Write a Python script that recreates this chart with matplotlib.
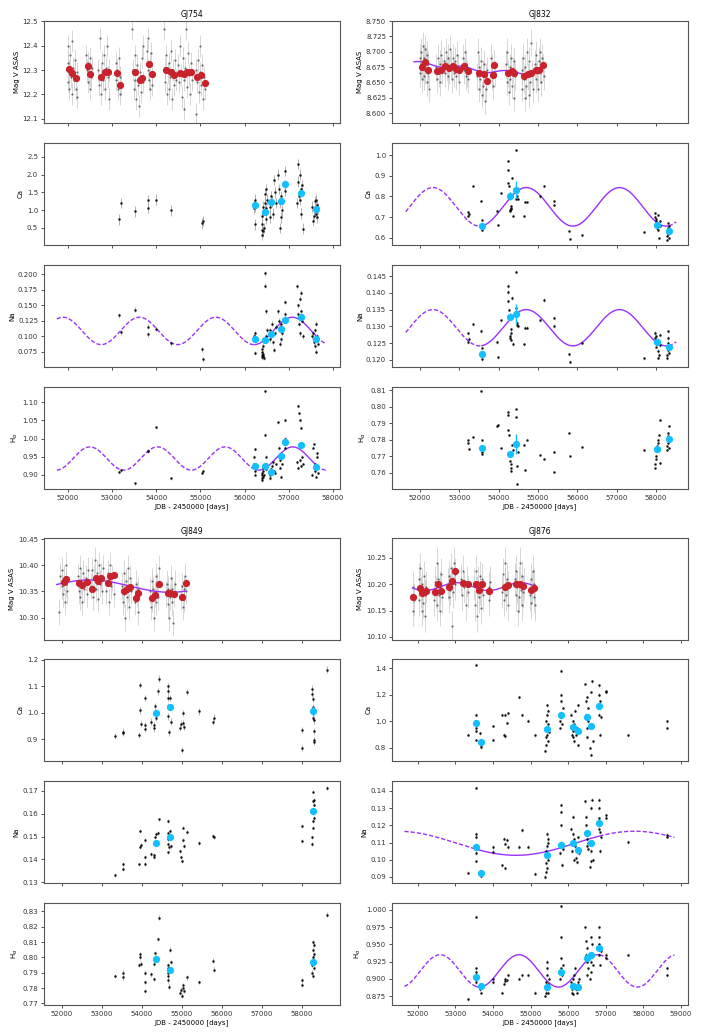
"""Photometric (ASAS V) and spectroscopic activity indices for four M dwarfs."""

import numpy as np
import matplotlib
matplotlib.use("Agg")
import matplotlib.pyplot as plt
from matplotlib.ticker import MultipleLocator

plt.rcParams["font.family"] = "DejaVu Sans"
plt.rcParams["font.size"] = 5

# ---------------------------------------------------------------- GJ754
GJ754_MAG_X = [51995, 52005, 52010, 52020, 52035, 52050, 52070, 52085, 52100, 52115, 52140, 52160, 52180, 52200, 52215,
               52420, 52435, 52450, 52465, 52480, 52495, 52510, 52530, 52550,
               52690, 52710, 52725, 52745, 52760, 52780, 52800, 52820, 52840, 52860, 52880, 52900, 52920, 52940,
               53080, 53100, 53115, 53130, 53150, 53170, 53190, 53210,
               53460, 53480, 53500, 53515, 53530, 53550, 53570, 53590, 53610, 53630, 53650, 53670, 53690, 53710,
               53790, 53805, 53820, 53835, 53850, 53865, 53880, 53900, 53915,
               54180, 54195, 54210, 54225, 54240, 54260, 54280, 54300, 54320, 54340, 54360, 54380, 54400, 54420, 54440,
               54500, 54520, 54540, 54560, 54580, 54600, 54620, 54640, 54660, 54680, 54700, 54720, 54740, 54760, 54780, 54800,
               54890, 54905, 54920, 54940, 54960, 54980, 55000, 55020, 55040, 55060, 55080, 55100]
GJ754_MAG_Y = [12.25, 12.40, 12.33, 12.22, 12.30, 12.36, 12.27, 12.42, 12.20, 12.31, 12.26, 12.34, 12.22, 12.29, 12.19,
               12.36, 12.30, 12.25, 12.33, 12.28, 12.22, 12.35, 12.27, 12.31,
               12.30, 12.24, 12.43, 12.28, 12.20, 12.33, 12.26, 12.36, 12.22, 12.31, 12.40, 12.27, 12.18, 12.30,
               12.33, 12.26, 12.30, 12.22, 12.35, 12.20, 12.27, 12.24,
               12.47, 12.30, 12.22, 12.36, 12.26, 12.18, 12.32, 12.24, 12.15, 12.29, 12.21, 12.35, 12.25, 12.40,
               12.38, 12.30, 12.43, 12.26, 12.33, 12.22, 12.37, 12.28, 12.24,
               12.47, 12.31, 12.25, 12.36, 12.20, 12.29, 12.33, 12.22, 12.27, 12.38, 12.18, 12.30, 12.24, 12.34, 12.26,
               12.32, 12.25, 12.40, 12.28, 12.19, 12.35, 12.26, 12.14, 12.31, 12.47, 12.23, 12.37, 12.28, 12.20, 12.33, 12.26,
               12.30, 12.12, 12.25, 12.34, 12.21, 12.29, 12.40, 12.24, 12.32, 12.18, 12.27, 12.22]
GJ754_BIN_MAG_X = [52015, 52098, 52189, 52445, 52506, 52740, 52830, 52906, 53117, 53185, 53517, 53623, 53683,
                   53826, 53894, 54211, 54325, 54400, 54528, 54619, 54702, 54777, 54921, 55011, 55094]
GJ754_BIN_MAG_Y = [12.303, 12.289, 12.267, 12.317, 12.283, 12.272, 12.290, 12.292, 12.288, 12.238, 12.294, 12.259, 12.267,
                   12.325, 12.283, 12.300, 12.292, 12.279, 12.288, 12.283, 12.290, 12.290, 12.270, 12.279, 12.246]

GJ754_SPEC_X = [53147, 53200, 53509, 53811, 53815, 53985, 54340, 55042, 55057,
                56215, 56220, 56225, 56228, 56232, 56236,
                56385, 56392, 56400, 56405, 56412, 56420, 56428, 56440, 56455, 56465, 56475, 56485, 56495, 56505,
                56570, 56585, 56600, 56615, 56640, 56660, 56690, 56715,
                56760, 56785, 56795, 56805, 56815, 56830, 56845, 56905, 56915, 56925,
                57180, 57200, 57215, 57230, 57245, 57260, 57270, 57285, 57300, 57330,
                57520, 57555, 57570, 57585, 57600, 57612, 57625, 57640, 57650, 57665]
GJ754_CA = [0.74, 1.20, 0.97, 1.28, 1.06, 1.30, 1.00, 0.63, 0.70,
            1.15, 1.05, 1.30, 0.60, 1.20, 1.10,
            0.45, 0.30, 0.60, 0.85, 0.40, 1.10, 0.95, 0.50, 1.45, 1.20, 0.75, 1.60, 1.05, 1.30,
            1.10, 0.80, 1.40, 1.25, 0.90, 1.85, 1.50, 1.20,
            2.00, 1.60, 0.50, 1.20, 1.40, 0.80, 1.00, 2.10, 1.70, 1.55,
            1.20, 1.80, 2.30, 1.40, 1.30, 2.00, 1.60, 0.90, 1.70, 0.48,
            1.10, 0.70, 0.85, 1.25, 1.00, 0.90, 1.30, 1.15, 0.80, 1.05]
GJ754_NA = [0.1335, 0.1064, 0.1426, 0.1149, 0.1032, 0.1122, 0.0883, 0.0787, 0.0628,
            0.100, 0.097, 0.105, 0.073, 0.095, 0.099,
            0.066, 0.070, 0.075, 0.080, 0.068, 0.085, 0.072, 0.065, 0.201, 0.181, 0.140, 0.100, 0.095, 0.110,
            0.095, 0.110, 0.100, 0.120, 0.090, 0.078, 0.105, 0.115,
            0.140, 0.125, 0.115, 0.088, 0.095, 0.120, 0.105, 0.155, 0.125, 0.135,
            0.180, 0.150, 0.135, 0.120, 0.160, 0.105, 0.140, 0.170, 0.125, 0.100,
            0.100, 0.105, 0.090, 0.085, 0.110, 0.120, 0.075, 0.095, 0.100, 0.088]
GJ754_HA = [0.909, 0.913, 0.877, 0.967, 0.965, 1.031, 0.891, 0.906, 0.910,
            0.93, 0.95, 0.97, 0.91, 0.90, 0.92,
            0.890, 0.900, 0.885, 0.905, 0.895, 0.910, 0.920, 0.900, 1.130, 1.010, 0.950, 0.930, 0.915, 0.925,
            0.900, 0.890, 0.915, 0.925, 0.935, 0.910, 0.905, 0.930,
            1.045, 0.975, 0.940, 0.920, 0.955, 0.895, 0.930, 1.050, 1.000, 0.975,
            0.935, 0.920, 1.090, 1.070, 1.050, 0.940, 0.925, 1.030, 0.950, 0.930,
            0.900, 0.975, 0.985, 0.910, 0.930, 0.920, 0.895, 0.950, 0.960, 0.905]
GJ754_BIN_X = [56226, 56468, 56604, 56815, 56921, 57283, 57623]
GJ754_BIN_CA = [1.14, 0.95, 1.23, 1.26, 1.74, 1.48, 1.04]
GJ754_BIN_NA = [0.0963, 0.0936, 0.1032, 0.1117, 0.1255, 0.1309, 0.0957]
GJ754_BIN_HA = [0.923, 0.923, 0.909, 0.953, 0.990, 0.982, 0.922]

# ---------------------------------------------------------------- GJ832
GJ832_MAG_X = [51990, 52005, 52020, 52035, 52050, 52065, 52080, 52095, 52110, 52125, 52140, 52155, 52170, 52185, 52200, 52215, 52230,
               52420, 52440, 52460, 52480, 52500, 52520, 52540, 52560,
               52600, 52625, 52650, 52675, 52700, 52725, 52750, 52775, 52800, 52825, 52850, 52875, 52900, 52925, 52950, 52975, 53000,
               53100, 53120, 53140, 53160, 53180, 53200, 53220,
               53450, 53470, 53490, 53510, 53530, 53550, 53570, 53590, 53610, 53630, 53650, 53670, 53690, 53710,
               53800, 53820, 53840, 53860, 53880, 53900,
               54180, 54200, 54220, 54240, 54260, 54280, 54300, 54320, 54340, 54360, 54380, 54400, 54420,
               54580, 54600, 54620, 54640, 54660, 54680, 54700, 54720, 54740, 54760, 54780, 54800, 54820, 54840, 54860,
               54920, 54940, 54960, 54980, 55000, 55020, 55040, 55060, 55080, 55100, 55120, 55140]
GJ832_MAG_Y = [8.690, 8.665, 8.700, 8.680, 8.655, 8.710, 8.675, 8.690, 8.660, 8.705, 8.670, 8.685, 8.650, 8.695, 8.665, 8.680, 8.640,
               8.675, 8.655, 8.690, 8.665, 8.680, 8.650, 8.695, 8.670,
               8.685, 8.665, 8.700, 8.675, 8.660, 8.690, 8.670, 8.705, 8.680, 8.655, 8.690, 8.665, 8.685, 8.660, 8.695, 8.675, 8.650,
               8.690, 8.670, 8.700, 8.660, 8.680, 8.665, 8.655,
               8.660, 8.700, 8.640, 8.675, 8.655, 8.685, 8.630, 8.665, 8.645, 8.680, 8.620, 8.660, 8.640, 8.670,
               8.690, 8.660, 8.675, 8.645, 8.680, 8.665,
               8.680, 8.650, 8.700, 8.665, 8.635, 8.675, 8.655, 8.690, 8.645, 8.670, 8.625, 8.685, 8.660,
               8.670, 8.640, 8.690, 8.655, 8.625, 8.675, 8.645, 8.700, 8.660, 8.630, 8.685, 8.650, 8.715, 8.665, 8.640,
               8.680, 8.655, 8.695, 8.665, 8.640, 8.685, 8.670, 8.700, 8.650, 8.690, 8.675, 8.660]
GJ832_BIN_MAG_X = [52043, 52119, 52204, 52443, 52528, 52630, 52740, 52843, 52911, 52996, 53123, 53209, 53506,
                   53617, 53702, 53847, 53889, 54247, 54332, 54400, 54638, 54740, 54826, 54953, 55021, 55123]
GJ832_BIN_MAG_Y = [8.6755, 8.6830, 8.6710, 8.6685, 8.6700, 8.6766, 8.6730, 8.6766, 8.6720, 8.6700, 8.6766, 8.6685, 8.6658,
                   8.6630, 8.6516, 8.6625, 8.6788, 8.6647, 8.6685, 8.6647, 8.6603, 8.6636, 8.6647, 8.6700, 8.6700, 8.6777]

GJ832_SPEC_X = [53210, 53226, 53240, 53336, 53549, 53570, 53574, 53578, 53957, 53974, 54060,
                54230, 54240, 54247, 54255, 54290, 54298, 54306, 54315, 54323, 54332, 54357,
                54443, 54451, 54460, 54468, 54485, 54638, 54672, 54715, 55055, 55140, 55404, 55410,
                55779, 55804, 56128, 57694,
                57960, 57975, 57985, 57995, 58005, 58015, 58025, 58040, 58055, 58070, 58090, 58110,
                58280, 58286, 58292, 58298, 58304, 58310, 58318, 58330]
GJ832_CA = [0.724, 0.708, 0.715, 0.852, 0.780, 0.656, 0.640, 0.688, 0.728, 0.664, 0.817,
            0.969, 0.929, 0.865, 0.850, 0.736, 0.728, 0.752, 0.740, 0.745, 0.889, 0.708,
            1.025, 0.788, 0.825, 0.800, 0.790, 0.708, 0.772, 0.772, 0.800, 0.849, 0.777, 0.760,
            0.632, 0.595, 0.616, 0.627,
            0.72, 0.70, 0.68, 0.66, 0.69, 0.67, 0.65, 0.71, 0.64, 0.60, 0.68, 0.66,
            0.59, 0.61, 0.63, 0.65, 0.67, 0.62, 0.60, 0.66]
GJ832_NA = [0.1279, 0.1254, 0.1262, 0.1306, 0.1286, 0.1217, 0.1202, 0.1237, 0.1254, 0.1208, 0.1318,
            0.1420, 0.1402, 0.1375, 0.1350, 0.1271, 0.1265, 0.1291, 0.1260, 0.1280, 0.1385, 0.1248,
            0.1463, 0.1356, 0.1303, 0.1310, 0.1300, 0.1247, 0.1296, 0.1296, 0.1318, 0.1379, 0.1326, 0.1301,
            0.1217, 0.1195, 0.1252, 0.1205,
            0.1280, 0.1265, 0.1255, 0.1240, 0.1270, 0.1250, 0.1260, 0.1227, 0.1207, 0.1215, 0.1275, 0.1245,
            0.1205, 0.1215, 0.1230, 0.1250, 0.1265, 0.1285, 0.1240, 0.1220]
GJ832_HA = [0.7800, 0.7780, 0.7745, 0.7818, 0.8097, 0.7797, 0.7725, 0.7715, 0.7880, 0.7890, 0.7752,
            0.7970, 0.7948, 0.7860, 0.7830, 0.7705, 0.7670, 0.7650, 0.7630, 0.7610, 0.7770, 0.7740,
            0.7983, 0.7940, 0.7642, 0.7533, 0.7725, 0.7766, 0.7615, 0.7800, 0.7710, 0.7683, 0.7607, 0.7725,
            0.7843, 0.7700, 0.7756, 0.7739,
            0.7630, 0.7650, 0.7680, 0.7700, 0.7730, 0.7750, 0.7760, 0.7780, 0.7800, 0.7830, 0.7917, 0.7660,
            0.7740, 0.7760, 0.7780, 0.7800, 0.7820, 0.7840, 0.7880, 0.7750]
GJ832_BIN_X = [53574, 54281, 54434, 58026, 58315]
GJ832_BIN_CA = [0.659, 0.801, 0.833, 0.664, 0.635]
GJ832_BIN_NA = [0.1219, 0.1329, 0.1338, 0.1254, 0.1240]
GJ832_BIN_HA = [0.7752, 0.7714, 0.7772, 0.7745, 0.7803]

# ---------------------------------------------------------------- GJ849
GJ849_MAG_X = [51930, 51960, 51990, 52010, 52030, 52050, 52070, 52090, 52110, 52125,
               52400, 52420, 52440, 52460, 52480, 52500, 52520, 52540, 52600, 52625, 52650,
               52720, 52745, 52770, 52795, 52820, 52845, 52870, 52895, 52920, 52945, 52970, 52995, 53020,
               53110, 53140, 53170, 53200, 53230, 53260, 53290,
               53500, 53520, 53540, 53560, 53580, 53600, 53620, 53640, 53660, 53680, 53700, 53720,
               53830, 53850, 53870, 53890, 53910,
               54200, 54220, 54240, 54260, 54280, 54300, 54320, 54340, 54360, 54380, 54400, 54420,
               54600, 54620, 54640, 54660, 54680, 54700, 54720, 54740, 54760, 54780, 54800, 54820,
               54980, 55000, 55020, 55040, 55060, 55080, 55100]
GJ849_MAG_Y = [10.310, 10.380, 10.360, 10.390, 10.345, 10.375, 10.330, 10.400, 10.365, 10.350,
               10.380, 10.350, 10.395, 10.340, 10.370, 10.330, 10.385, 10.355, 10.375, 10.345, 10.390,
               10.360, 10.390, 10.340, 10.375, 10.410, 10.355, 10.385, 10.335, 10.400, 10.365, 10.380, 10.350, 10.395,
               10.350, 10.385, 10.330, 10.400, 10.360, 10.375, 10.345,
               10.360, 10.330, 10.385, 10.345, 10.300, 10.370, 10.340, 10.395, 10.355, 10.320, 10.375, 10.350,
               10.330, 10.365, 10.345, 10.310, 10.355,
               10.350, 10.320, 10.370, 10.335, 10.355, 10.300, 10.345, 10.380, 10.330, 10.360, 10.340, 10.395,
               10.345, 10.365, 10.325, 10.355, 10.300, 10.340, 10.375, 10.330, 10.355, 10.290, 10.345, 10.365,
               10.340, 10.360, 10.320, 10.355, 10.335, 10.380, 10.350]
GJ849_BIN_MAG_X = [52050, 52100, 52427, 52510, 52628, 52745, 52845, 52912, 52979, 53146, 53205, 53289, 53556,
                   53632, 53707, 53858, 53900, 54251, 54335, 54418, 54644, 54711, 54795, 55004, 55105]
GJ849_BIN_MAG_Y = [10.3688, 10.3734, 10.3669, 10.3617, 10.3688, 10.3539, 10.3753, 10.3701, 10.3747, 10.3669, 10.3786,
                   10.3812, 10.3513, 10.3539, 10.3591, 10.3377, 10.3461, 10.3377, 10.3422, 10.3649, 10.3461,
                   10.3461, 10.3455, 10.3396, 10.3656]

GJ849_SPEC_X = [53331, 53515, 53520, 53916, 53958, 53962, 53968, 54067, 54072, 54078, 54234, 54293, 54298,
                54335, 54343, 54410, 54418, 54644, 54648, 54652, 54656, 54660, 54664, 54711, 54716,
                54962, 54968, 55004, 55029, 55034, 55040, 55113, 55423, 55782, 55790, 58000, 58005,
                58255, 58262, 58268, 58274, 58280, 58286, 58292, 58298, 58304, 58310, 58619]
GJ849_CA = [0.911, 0.928, 0.923, 0.915, 1.103, 1.008, 0.956, 1.054, 0.953, 0.938, 0.966, 0.953, 0.940,
            1.023, 0.981, 1.080, 1.128, 1.080, 1.099, 1.054, 1.025, 0.985, 0.925, 1.054, 0.966,
            0.943, 0.956, 0.858, 0.997, 0.959, 0.945, 1.077, 1.004, 0.966, 0.981, 0.934, 0.867,
            1.090, 1.070, 1.050, 1.020, 1.000, 0.980, 0.970, 0.930, 0.890, 0.895, 1.162]
GJ849_NA = [0.1333, 0.1381, 0.1359, 0.1378, 0.1524, 0.1453, 0.1463, 0.1484, 0.1412, 0.1381, 0.1424, 0.1421, 0.1409,
            0.1496, 0.1510, 0.1517, 0.1575, 0.1568, 0.1517, 0.1467, 0.1431, 0.1490, 0.1455, 0.1524, 0.1460,
            0.1438, 0.1409, 0.1392, 0.1539, 0.1484, 0.1460, 0.1520, 0.1471, 0.1503, 0.1496, 0.1545, 0.1481,
            0.1496, 0.1467, 0.1539, 0.1654, 0.1697, 0.1568, 0.1582, 0.1640, 0.1610, 0.1660, 0.1712]
GJ849_HA = [0.788, 0.790, 0.787, 0.795, 0.802, 0.800, 0.796, 0.784, 0.778, 0.790, 0.789, 0.786, 0.796,
            0.803, 0.800, 0.812, 0.826, 0.793, 0.790, 0.788, 0.785, 0.795, 0.781, 0.805, 0.797,
            0.777, 0.779, 0.775, 0.782, 0.780, 0.778, 0.787, 0.784, 0.798, 0.792, 0.785, 0.782,
            0.790, 0.795, 0.800, 0.805, 0.810, 0.788, 0.798, 0.802, 0.793, 0.808, 0.828]
GJ849_BIN_X = [54343, 54703, 58276]
GJ849_BIN_CA = [0.997, 1.020, 1.004]
GJ849_BIN_NA = [0.1474, 0.1496, 0.1611]
GJ849_BIN_HA = [0.799, 0.792, 0.797]

# ---------------------------------------------------------------- GJ876
GJ876_MAG_X = [51860, 51875, 51890,
               52020, 52040, 52060, 52080, 52100, 52120, 52140, 52160, 52180, 52200, 52220,
               52440, 52460, 52480, 52500, 52520, 52540, 52560, 52580, 52600, 52620, 52640,
               52800, 52820, 52840, 52860, 52880, 52900, 52920, 52940, 52960, 52980, 53000,
               53150, 53180, 53210, 53240, 53270, 53300, 53330,
               53500, 53520, 53540, 53560, 53580, 53600, 53620, 53640, 53660, 53680, 53700, 53720,
               53880, 53900, 53920,
               54250, 54270, 54290, 54310, 54330, 54350, 54370, 54390, 54410,
               54580, 54600, 54620, 54640, 54660, 54680, 54700, 54720, 54740, 54760, 54780, 54800, 54820,
               54980, 55000, 55020, 55040, 55060, 55080, 55100, 55120]
GJ876_MAG_Y = [10.150, 10.195, 10.170,
               10.210, 10.170, 10.230, 10.185, 10.150, 10.200, 10.165, 10.215, 10.180, 10.140, 10.195,
               10.170, 10.205, 10.185, 10.240, 10.160, 10.210, 10.180, 10.195, 10.150, 10.220, 10.175,
               10.200, 10.175, 10.215, 10.190, 10.230, 10.120, 10.205, 10.185, 10.240, 10.200, 10.220,
               10.210, 10.180, 10.225, 10.195, 10.160, 10.205, 10.185,
               10.200, 10.160, 10.225, 10.185, 10.140, 10.205, 10.175, 10.215, 10.190, 10.155, 10.210, 10.180,
               10.195, 10.170, 10.205,
               10.185, 10.220, 10.170, 10.200, 10.240, 10.180, 10.210, 10.160, 10.195,
               10.210, 10.180, 10.225, 10.195, 10.150, 10.205, 10.175, 10.240, 10.190, 10.160, 10.215, 10.185, 10.200,
               10.180, 10.210, 10.165, 10.195, 10.225, 10.175, 10.200, 10.160]
GJ876_BIN_MAG_X = [51876, 52062, 52107, 52151, 52213, 52462, 52524, 52613, 52835, 52906, 52995, 53190,
                   53323, 53545, 53616, 53705, 53900, 54327, 54398, 54611, 54718, 54806, 55011, 55099]
GJ876_BIN_MAG_Y = [10.1755, 10.1936, 10.1839, 10.1852, 10.1871, 10.1852, 10.2000, 10.1871, 10.1949, 10.2064, 10.2251,
                   10.2032, 10.2013, 10.2000, 10.1897, 10.2000, 10.1871, 10.1949, 10.1987, 10.2000, 10.2000,
                   10.1968, 10.1884, 10.1929]

GJ876_SPEC_X = [53341, 53540, 53542, 53545, 53548, 53551, 53554, 53661, 53675, 53685, 53989, 53995,
                54238, 54300, 54310, 54325, 54360, 54410, 54700, 54773, 54940, 55126,
                55390, 55398, 55405, 55412, 55420, 55428, 55436, 55444, 55452, 55462, 55475, 55490,
                55783, 55790, 55798, 55805, 55812, 55820, 55835, 55854,
                56076, 56090, 56105, 56120, 56130, 56140, 56150, 56160, 56180, 56220, 56240, 56255, 56270, 56300,
                56458, 56470, 56480, 56490, 56500, 56510, 56525, 56540, 56580, 56600, 56610, 56620, 56635, 56654,
                56810, 56818, 56825, 56832, 56840, 56860, 56876, 57009, 57020, 57586, 58625, 58632]
GJ876_CA = [0.90, 1.425, 1.05, 1.00, 0.95, 0.925, 0.86, 0.91, 0.825, 0.805, 0.965, 0.862,
            1.05, 0.90, 0.888, 1.05, 0.99, 1.06, 1.18, 1.05, 1.005, 0.895,
            0.78, 0.82, 0.88, 0.95, 1.00, 1.05, 1.12, 0.90, 0.85, 0.98, 1.08, 0.92,
            0.95, 1.00, 1.38, 1.15, 1.20, 1.05, 0.98, 1.10,
            1.05, 0.95, 0.90, 0.88, 1.00, 0.93, 0.85, 0.98, 1.08, 0.90, 0.95, 0.82, 1.12, 0.92,
            1.28, 1.15, 1.05, 0.95, 0.88, 1.18, 1.00, 1.10, 0.80, 0.75, 0.95, 1.22, 1.30, 0.85,
            1.27, 1.20, 1.10, 1.05, 0.90, 1.15, 1.03, 1.225, 1.22, 0.895, 1.00, 0.95]
GJ876_NA = [0.0926, 0.1420, 0.1152, 0.1133, 0.1085, 0.1040, 0.0990, 0.0930, 0.0910, 0.0905, 0.1075, 0.1046,
            0.0968, 0.1123, 0.0950, 0.1094, 0.1114, 0.1075, 0.1075, 0.1172, 0.1075, 0.0920,
            0.0900, 0.0930, 0.0980, 0.1020, 0.1050, 0.1080, 0.1150, 0.0950, 0.1000, 0.1100, 0.1120, 0.1030,
            0.1040, 0.1090, 0.1320, 0.1280, 0.1200, 0.1100, 0.0970, 0.1060,
            0.1180, 0.1100, 0.1050, 0.1150, 0.1090, 0.1250, 0.1120, 0.1000, 0.1080, 0.1010, 0.0985, 0.1060, 0.1130, 0.1040,
            0.1340, 0.1250, 0.1200, 0.1150, 0.1080, 0.1120, 0.1100, 0.1060, 0.0960, 0.0990, 0.1050, 0.1300, 0.1350, 0.1000,
            0.1350, 0.1300, 0.1240, 0.1180, 0.1050, 0.1160, 0.1130, 0.1259, 0.1245, 0.1104, 0.1143, 0.1135]
GJ876_HA = [0.870, 0.990, 0.915, 0.905, 0.900, 0.895, 0.910, 0.885, 0.890, 0.880, 0.895, 0.900,
            0.880, 0.893, 0.897, 0.900, 0.898, 0.905, 0.900, 0.905, 0.905, 0.880,
            0.875, 0.880, 0.885, 0.890, 0.895, 0.905, 0.915, 0.925, 0.880, 0.888, 0.892, 0.900,
            0.900, 0.910, 1.005, 0.960, 0.930, 0.915, 0.905, 0.920,
            0.895, 0.885, 0.880, 0.878, 0.890, 0.900, 0.887, 0.905, 0.915, 0.885, 0.880, 0.890, 0.895, 0.900,
            0.975, 0.955, 0.935, 0.925, 0.905, 0.945, 0.915, 0.930, 0.900, 0.910, 0.925, 0.960, 0.950, 0.920,
            0.975, 0.960, 0.950, 0.935, 0.920, 0.945, 0.940, 0.935, 0.930, 0.935, 0.915, 0.905]
GJ876_BIN_X = [53545, 53679, 55428, 55810, 56139, 56254, 56494, 56609, 56831]
GJ876_BIN_CA = [0.988, 0.845, 0.945, 1.045, 0.955, 0.925, 1.030, 0.962, 1.118]
GJ876_BIN_NA = [0.1075, 0.0924, 0.1030, 0.1088, 0.1100, 0.1055, 0.1158, 0.1100, 0.1214]
GJ876_BIN_HA = [0.903, 0.890, 0.888, 0.910, 0.890, 0.888, 0.930, 0.935, 0.945]

# sinusoidal fits: (mean, amplitude, period, time of maximum), drawn over [start, end],
# solid inside [solid_lo, solid_hi] and dashed outside
GJ754_NA_FIT = (0.1085, 0.022, 1730, 57080)
GJ754_HA_FIT = (0.945, 0.032, 1530, 57090)
GJ754_SPAN = (51750, 57850, 56226, 57623)
GJ832_CA_FIT = (0.750, 0.093, 2370, 54700)
GJ832_NA_FIT = (0.1296, 0.0054, 2370, 54700)
GJ832_SPAN = (51640, 58510, 53574, 58315)
GJ832_MAG_FIT = [(8.674, 0.008, 6000, 51500), (0.0, 0.003, 1100, 53084)]
GJ832_MAG_SPAN = (51850, 55125)
GJ849_MAG_FIT = (10.360, 0.0118, 4000, 52700)
GJ849_MAG_SPAN = (51866, 55100)
GJ876_MAG_FIT = (10.1955, 0.0075, 1700, 53030)
GJ876_MAG_SPAN = (51858, 55144)
GJ876_NA_FIT = (0.1096, 0.0070, 6300, 57760)
GJ876_HA_FIT = (0.9115, 0.0235, 2100, 56790)
GJ876_SPAN = (51640, 58830, 53545, 56831)

FIT_COLOR = "#9b30ff"
RED = "#c8232c"
BLUE = "#12c0ff"


def sine(t, p):
    mean, amp, period, tmax = p
    return mean + amp * np.cos(2 * np.pi * (t - tmax) / period)


def draw_fit(ax, params, span):
    t0, t1, lo, hi = span
    t = np.linspace(t0, t1, 800)
    y = sine(t, params)
    inside = (t >= lo) & (t <= hi)
    ax.plot(t, np.where(inside, np.nan, y), color=FIT_COLOR, lw=1.0, ls=(0, (3, 1.5)))
    ax.plot(t, np.where(inside, y, np.nan), color=FIT_COLOR, lw=1.0)


def draw_mag_fit(ax, params_list, span):
    t = np.linspace(span[0], span[1], 400)
    y = sum(sine(t, p) for p in params_list)
    ax.plot(t, y, color=FIT_COLOR, lw=1.0, zorder=3)


def draw_cloud(ax, x, y, err):
    ax.errorbar(x, y, yerr=err, fmt=".", color="#333333", ms=1.3, alpha=0.6,
                ecolor="#b0b0b0", elinewidth=0.6, capsize=0, zorder=2)


def draw_points(ax, x, y, err):
    ax.errorbar(x, y, yerr=err, fmt=".", color="k", ms=1.8, alpha=0.75,
                ecolor="#9a9a9a", elinewidth=0.7, capsize=0, zorder=2)


def draw_bins(ax, x, y, err, color):
    ax.errorbar(x, y, yerr=err, fmt="o", color=color, ms=4.2, elinewidth=1.0,
                capsize=0, zorder=4)


def style(ax):
    for s in ax.spines.values():
        s.set_color("#555555")
        s.set_linewidth(0.8)
    ax.tick_params(colors="#333333", labelsize=5, length=2.5, width=0.6, pad=1.8)


W, H = 706, 1036
COL_LEFT = [44, 392]
COL_W = 296
ROW_TOPS = [[21, 143, 265, 387], [538, 659, 781, 903]]
ROW_H = 102

fig = plt.figure(figsize=(W / 100, H / 100), dpi=100)


def make_column(group, col, xlim, ysteps):
    axes = []
    for i, top in enumerate(ROW_TOPS[group]):
        rect = [COL_LEFT[col] / W, 1 - (top + ROW_H) / H, COL_W / W, ROW_H / H]
        ax = fig.add_axes(rect, sharex=axes[0] if axes else None)
        style(ax)
        ax.yaxis.set_major_locator(MultipleLocator(ysteps[i]))
        if i < 3:
            ax.tick_params(labelbottom=False)
        axes.append(ax)
    axes[0].set_xlim(*xlim)
    axes[0].xaxis.set_major_locator(MultipleLocator(1000))
    for a, lab in zip(axes, ["Mag V ASAS", "Ca", "Na", r"H$_\alpha$"]):
        a.set_ylabel(lab, fontsize=5, labelpad=2)
    axes[3].set_xlabel("JDB - 2450000 [days]", fontsize=5, labelpad=1.5)
    return axes


# GJ754
ax = make_column(0, 0, (51460, 58160), [0.1, 0.5, 0.025, 0.05])
ax[0].set_title("GJ754", fontsize=5.5, pad=3)
draw_cloud(ax[0], GJ754_MAG_X, GJ754_MAG_Y, 0.045)
draw_bins(ax[0], GJ754_BIN_MAG_X, GJ754_BIN_MAG_Y, 0.008, RED)
ax[0].set_ylim(12.082, 12.502)
draw_points(ax[1], GJ754_SPEC_X, GJ754_CA, 0.15)
draw_bins(ax[1], GJ754_BIN_X, GJ754_BIN_CA, 0.07, BLUE)
ax[1].set_ylim(0.02, 2.89)
draw_points(ax[2], GJ754_SPEC_X, GJ754_NA, 0.004)
draw_fit(ax[2], GJ754_NA_FIT, GJ754_SPAN)
draw_bins(ax[2], GJ754_BIN_X, GJ754_BIN_NA, 0.003, BLUE)
ax[2].set_ylim(0.0505, 0.2145)
draw_points(ax[3], GJ754_SPEC_X, GJ754_HA, 0.004)
draw_fit(ax[3], GJ754_HA_FIT, GJ754_SPAN)
draw_bins(ax[3], GJ754_BIN_X, GJ754_BIN_HA, 0.008, BLUE)
ax[3].set_ylim(0.861, 1.142)

# GJ832
ax = make_column(0, 1, (51290, 58810), [0.025, 0.1, 0.005, 0.01])
ax[0].set_title("GJ832", fontsize=5.5, pad=3)
draw_cloud(ax[0], GJ832_MAG_X, GJ832_MAG_Y, 0.022)
draw_mag_fit(ax[0], GJ832_MAG_FIT, GJ832_MAG_SPAN)
draw_bins(ax[0], GJ832_BIN_MAG_X, GJ832_BIN_MAG_Y, 0.004, RED)
ax[0].set_ylim(8.584, 8.750)
draw_points(ax[1], GJ832_SPEC_X, GJ832_CA, 0.005)
draw_fit(ax[1], GJ832_CA_FIT, GJ832_SPAN)
draw_bins(ax[1], GJ832_BIN_X, GJ832_BIN_CA, [0.01, 0.02, 0.04, 0.01, 0.01], BLUE)
ax[1].set_ylim(0.566, 1.058)
draw_points(ax[2], GJ832_SPEC_X, GJ832_NA, 0.0005)
draw_fit(ax[2], GJ832_NA_FIT, GJ832_SPAN)
draw_bins(ax[2], GJ832_BIN_X, GJ832_BIN_NA, [0.0008, 0.001, 0.003, 0.0005, 0.0005], BLUE)
ax[2].set_ylim(0.1179, 0.1483)
draw_points(ax[3], GJ832_SPEC_X, GJ832_HA, 0.0005)
draw_bins(ax[3], GJ832_BIN_X, GJ832_BIN_HA, [0.0008, 0.0015, 0.006, 0.0008, 0.0008], BLUE)
ax[3].set_ylim(0.7501, 0.8119)

# GJ849
ax = make_column(1, 0, (51550, 58950), [0.05, 0.1, 0.01, 0.01])
ax[0].set_title("GJ849", fontsize=5.5, pad=3)
draw_cloud(ax[0], GJ849_MAG_X, GJ849_MAG_Y, 0.025)
draw_mag_fit(ax[0], [GJ849_MAG_FIT], GJ849_MAG_SPAN)
draw_bins(ax[0], GJ849_BIN_MAG_X, GJ849_BIN_MAG_Y, 0.004, RED)
ax[0].set_ylim(10.257, 10.452)
draw_points(ax[1], GJ849_SPEC_X, GJ849_CA, 0.012)
draw_bins(ax[1], GJ849_BIN_X, GJ849_BIN_CA, [0.01, 0.01, 0.02], BLUE)
ax[1].set_ylim(0.817, 1.202)
draw_points(ax[2], GJ849_SPEC_X, GJ849_NA, 0.0008)
draw_bins(ax[2], GJ849_BIN_X, GJ849_BIN_NA, 0.0008, BLUE)
ax[2].set_ylim(0.1297, 0.1743)
draw_points(ax[3], GJ849_SPEC_X, GJ849_HA, 0.0015)
draw_bins(ax[3], GJ849_BIN_X, GJ849_BIN_HA, 0.0015, BLUE)
ax[3].set_ylim(0.7690, 0.8355)

# GJ876
ax = make_column(1, 1, (51310, 59190), [0.05, 0.2, 0.01, 0.025])
ax[0].set_title("GJ876", fontsize=5.5, pad=3)
draw_cloud(ax[0], GJ876_MAG_X, GJ876_MAG_Y, 0.03)
draw_mag_fit(ax[0], [GJ876_MAG_FIT], GJ876_MAG_SPAN)
draw_bins(ax[0], GJ876_BIN_MAG_X, GJ876_BIN_MAG_Y, 0.005, RED)
ax[0].set_ylim(10.094, 10.288)
draw_points(ax[1], GJ876_SPEC_X, GJ876_CA, 0.01)
draw_bins(ax[1], GJ876_BIN_X, GJ876_BIN_CA, 0.02, BLUE)
ax[1].set_ylim(0.702, 1.468)
draw_points(ax[2], GJ876_SPEC_X, GJ876_NA, 0.001)
draw_fit(ax[2], GJ876_NA_FIT, GJ876_SPAN)
draw_bins(ax[2], GJ876_BIN_X, GJ876_BIN_NA, 0.0015, BLUE)
ax[2].set_ylim(0.0865, 0.1458)
draw_points(ax[3], GJ876_SPEC_X, GJ876_HA, 0.002)
draw_fit(ax[3], GJ876_HA_FIT, GJ876_SPAN)
draw_bins(ax[3], GJ876_BIN_X, GJ876_BIN_HA, 0.004, BLUE)
ax[3].set_ylim(0.862, 1.010)

fig.savefig("out.png", dpi=100)
